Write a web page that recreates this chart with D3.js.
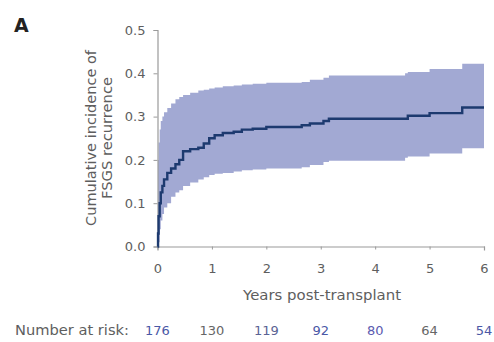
<!DOCTYPE html>
<html>
<head>
<meta charset="utf-8">
<script src="https://cdn.jsdelivr.net/npm/d3@7"></script>
<style>
  body { margin: 0; background: #fff; }
  svg { font-family: "DejaVu Sans", Verdana, sans-serif; }
</style>
</head>
<body>
<div id="chart"></div>
<script>
// years post-transplant (step change points)
const years = [0, 0.01, 0.02, 0.04, 0.06, 0.09, 0.12, 0.18, 0.25, 0.33, 0.4, 0.47, 0.6, 0.75, 0.85, 0.95, 1.05, 1.2, 1.4, 1.55, 1.75, 2.0, 2.65, 2.8, 3.05, 3.15, 4.55, 4.6, 5.0, 5.6, 6.0];
const incidence = [0, 0.03, 0.07, 0.1, 0.125, 0.14, 0.155, 0.17, 0.18, 0.19, 0.2, 0.22, 0.225, 0.228, 0.238, 0.25, 0.257, 0.262, 0.265, 0.27, 0.272, 0.276, 0.28, 0.284, 0.29, 0.295, 0.295, 0.302, 0.308, 0.321, 0.321];
const upperCI = [0, 0.2, 0.24, 0.27, 0.29, 0.3, 0.31, 0.32, 0.33, 0.34, 0.345, 0.35, 0.355, 0.36, 0.362, 0.365, 0.367, 0.37, 0.372, 0.374, 0.376, 0.378, 0.38, 0.385, 0.39, 0.395, 0.4, 0.403, 0.41, 0.422, 0.422];
const lowerCI = [0, 0, 0.01, 0.04, 0.06, 0.075, 0.09, 0.1, 0.115, 0.125, 0.13, 0.14, 0.148, 0.155, 0.16, 0.165, 0.168, 0.17, 0.173, 0.176, 0.178, 0.18, 0.183, 0.188, 0.195, 0.198, 0.205, 0.208, 0.215, 0.227, 0.227];

const xTicks = [0, 1, 2, 3, 4, 5, 6];
const yTicks = [0, 0.1, 0.2, 0.3, 0.4, 0.5];
const atRiskYears = [0, 1, 2, 3, 4, 5, 6];
const atRisk = [176, 130, 119, 92, 80, 64, 54];

const data = years.map((t, i) => ({ t: t, v: incidence[i], lo: lowerCI[i], hi: upperCI[i] }));

const width = 494, height = 342;
const svg = d3.select('#chart').append('svg')
  .attr('width', width)
  .attr('height', height);

const x = d3.scaleLinear().domain([0, 6]).range([157.5, 484]);
const y = d3.scaleLinear().domain([0, 0.5]).range([246.5, 30]);

const axisColor = '#9a9a9a';
const textColor = '#5e5e5e';

// confidence band
const area = d3.area()
  .x(d => x(d.t))
  .y0(d => y(d.lo))
  .y1(d => y(d.hi))
  .curve(d3.curveStepAfter);

svg.append('path')
  .datum(data)
  .attr('d', area)
  .attr('fill', '#a2a9d3');

// axes
const xAxis = svg.append('g')
  .attr('transform', `translate(0,${y(0)})`)
  .call(d3.axisBottom(x).tickValues(xTicks).tickSize(4).tickFormat(d3.format('d')));
const yAxis = svg.append('g')
  .attr('transform', `translate(${x(0)},0)`)
  .call(d3.axisLeft(y).tickValues(yTicks).tickSize(4).tickFormat(d3.format('.1f')));

[xAxis, yAxis].forEach(g => {
  g.select('.domain').attr('stroke', axisColor).attr('stroke-width', 1.2);
  g.selectAll('.tick line').attr('stroke', axisColor);
  g.selectAll('.tick text').attr('fill', textColor).style('font-size', '13px').style('font-family', '"DejaVu Sans", Verdana, sans-serif');
});
xAxis.selectAll('.tick line').attr('y2', 3);
xAxis.selectAll('.tick text').attr('y', 26).attr('dy', 0);
yAxis.selectAll('.tick text').attr('x', -12);

// cumulative incidence line
const line = d3.line()
  .x(d => x(d.t))
  .y(d => y(d.v))
  .curve(d3.curveStepAfter);

svg.append('path')
  .datum(data)
  .attr('d', line)
  .attr('fill', 'none')
  .attr('stroke', '#1d3a6f')
  .attr('stroke-width', 2.4);

// labels
svg.append('text')
  .attr('x', 14).attr('y', 32)
  .style('font-size', '19px').style('font-weight', 'bold')
  .attr('fill', '#222')
  .text('A');

const yl = svg.append('text')
  .attr('transform', 'translate(100,138) rotate(-90)')
  .attr('text-anchor', 'middle')
  .attr('fill', textColor)
  .style('font-size', '14px');
yl.append('tspan').attr('x', 0).attr('dy', '-0.3em')
  .attr('textLength', 176).attr('lengthAdjust', 'spacingAndGlyphs')
  .text('Cumulative incidence of');
yl.append('tspan').attr('x', 0).attr('dy', '1.15em')
  .attr('textLength', 122).attr('lengthAdjust', 'spacingAndGlyphs')
  .text('FSGS recurrence');

svg.append('text')
  .attr('x', 322).attr('y', 300)
  .attr('text-anchor', 'middle')
  .attr('fill', textColor)
  .style('font-size', '14px')
  .attr('textLength', 158).attr('lengthAdjust', 'spacingAndGlyphs')
  .text('Years post-transplant');

svg.append('text')
  .attr('x', 15).attr('y', 335)
  .attr('fill', textColor)
  .style('font-size', '14px')
  .attr('textLength', 114).attr('lengthAdjust', 'spacingAndGlyphs')
  .text('Number at risk:');

const riskColors = ['#4a58a6', '#666', '#5a6394', '#4a58a6', '#5a5ab0', '#666', '#4a58a6'];
svg.selectAll('.risk')
  .data(atRisk)
  .enter()
  .append('text')
  .attr('class', 'risk')
  .attr('x', (d, i) => x(atRiskYears[i]))
  .attr('y', 335)
  .attr('text-anchor', 'middle')
  .attr('fill', (d, i) => riskColors[i])
  .style('font-size', '13px')
  .text(d => d);
</script>
</body>
</html>
